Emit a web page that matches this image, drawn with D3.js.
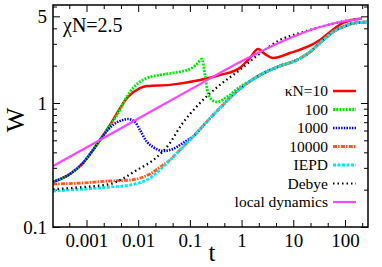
<!DOCTYPE html>
<html>
<head>
<meta charset="utf-8">
<script src="https://cdn.jsdelivr.net/npm/d3@7"></script>
<style>
  body { margin: 0; background: #fff; }
  svg text { font-family: "Liberation Serif", "DejaVu Serif", "Times New Roman", Times, serif; fill: #000; }
</style>
</head>
<body>
<div id="chart"></div>
<script>
// series: t values and W values per curve
var tShared = [2.25e-4, 4.8e-4, 8.55e-4, 1.34e-3, 1.82e-3];
var wShared = [0.231, 0.268, 0.328, 0.418, 0.503];

var tTail = [2.27, 5.53, 11.8, 21.0, 32.8, 58.6, 91.4, 156, 279];
var wTail = [1.68, 1.99, 2.22, 2.58, 3.05, 3.74, 4.10, 4.42, 4.50];

var tRed = [2.85e-3, 6.35e-3, 0.0108, 0.0148, 0.0412, 0.157, 0.382, 0.931, 1.45, 2.08, 2.84, 4.05, 8.63, 18.4, 32.8, 51.3, 91.4, 136, 213];
var wRed = [0.665, 1.12, 1.32, 1.37, 1.40, 1.53, 1.68, 1.92, 2.31, 2.72, 2.48, 2.31, 2.53, 2.83, 3.22, 3.74, 4.42, 4.67, 4.80];

var tGreen = [2.49e-3, 3.89e-3, 6.94e-3, 0.0148, 0.0471, 0.100, 0.137, 0.171, 0.196, 0.224, 0.267, 0.334, 0.522, 0.931, 1.45];
var wGreen = [0.606, 0.80, 1.23, 1.59, 1.75, 1.88, 2.06, 2.26, 1.68, 1.20, 1.06, 1.02, 1.12, 1.35, 1.50];

var tBlue = [2.49e-3, 3.26e-3, 5.08e-3, 6.35e-3, 8.67e-3, 0.0108, 0.0148, 0.0193, 0.0302, 0.0471, 0.0736, 0.137];
var wBlue = [0.595, 0.665, 0.730, 0.743, 0.703, 0.606, 0.485, 0.442, 0.410, 0.426, 0.476, 0.573];

var tCyan = [2.25e-4, 8.55e-4, 2.85e-3, 6.94e-3, 0.0169, 0.0302, 0.0563, 0.100, 0.179, 0.382, 0.682, 1.16];
var wCyan = [0.195, 0.202, 0.210, 0.218, 0.248, 0.305, 0.395, 0.503, 0.653, 0.911, 1.16, 1.40];

var tOrange = [2.25e-4, 7.48e-4, 2.85e-3, 6.94e-3, 0.0169, 0.0302, 0.0412];
var wOrange = [0.222, 0.226, 0.235, 0.239, 0.268, 0.316, 0.347];

var tDebye = [2.25e-4, 8.55e-4, 2.85e-3, 9.48e-3, 0.0231, 0.0412, 0.0643, 0.157, 0.382, 0.931, 2.08, 5.53, 13.5, 32.8, 80, 156];
var wDebye = [0.202, 0.210, 0.222, 0.288, 0.367, 0.476, 0.640, 1.0, 1.40, 1.85, 2.44, 3.22, 3.67, 4.10, 4.50, 4.76];

var tLocal = [2.25e-4, 1.82e-3, 0.0169, 0.157, 0.931, 2.27, 8.63, 32.8, 80, 156, 213];
var wLocal = [0.310, 0.503, 0.846, 1.42, 2.14, 2.58, 3.34, 4.10, 4.50, 4.71, 4.76];

var legendLabels = ["\u03baN=10", "100", "1000", "10000", "IEPD", "Debye", "local dynamics"];
var xTickValues = [0.001, 0.01, 0.1, 1, 10, 100];
var xTickLabels = ["0.001", "0.01", "0.1", "1", "10", "100"];
var yTickValues = [0.1, 1, 5];
var yTickLabels = ["0.1", "1", "5"];

var serif = "'Liberation Serif', 'DejaVu Serif', 'Times New Roman', serif";

function pts(t, w) { return t.map(function(d, i) { return [d, w[i]]; }); }

var series = [
  { data: pts(tShared.concat(tRed), wShared.concat(wRed)), color: "#ff0000", dash: null, width: 2.5 },
  { data: pts(tShared.concat(tGreen, tTail), wShared.concat(wGreen, wTail)), color: "#00ee00", dash: "2,1.2", width: 2.8 },
  { data: pts(tShared.concat(tBlue, tCyan.slice(8), tTail), wShared.concat(wBlue, wCyan.slice(8), wTail)), color: "#0000ff", dash: "1.5,1.2", width: 2.6 },
  { data: pts(tOrange.concat(tCyan.slice(6), tTail), wOrange.concat(wCyan.slice(6), wTail)), color: "#ff5a1e", dash: "4,1.2,1.5,1.2", width: 2.8 },
  { data: pts(tCyan.concat(tTail), wCyan.concat(wTail)), color: "#00e8f0", dash: "3,1.5", width: 2.8 },
  { data: pts(tDebye, wDebye), color: "#000000", dash: "1.5,3", width: 2.2 },
  { data: pts(tLocal, wLocal), color: "#ff44ff", dash: null, width: 2.2 }
];

var W = 382, H = 267;
var mL = 53, mR = 368, mT = 5, mB = 227;

var svg = d3.select("#chart").append("svg")
    .attr("width", W)
    .attr("height", H);

var x = d3.scaleLog().domain([2.25e-4, 279]).range([mL, mR]);
var y = d3.scaleLog().domain([0.1, 6.17]).range([mB, mT]);

svg.append("clipPath").attr("id", "clip")
  .append("rect").attr("x", mL).attr("y", mT).attr("width", mR - mL).attr("height", mB - mT);

// minor ticks
var xMinor = [];
for (var k = -4; k <= 2; k++) {
  [1/3, 2/3].forEach(function(f) {
    var v = Math.pow(10, k + f);
    if (v > 2.25e-4 && v < 279) xMinor.push(v);
  });
}
var yMinor = [];
[0.1, 1].forEach(function(dec) {
  for (var m = 2; m <= 9; m++) {
    var v = dec * m;
    if (v < 6.17 && v !== 5) yMinor.push(v);
  }
});

function styleAxis(g) {
  g.select(".domain").remove();
  g.selectAll("line").attr("stroke", "#000").attr("stroke-width", 1);
  g.attr("font-family", null).attr("font-size", null);
  g.selectAll("text").style("font-size", "19px").style("font-family", serif);
}

svg.append("g").attr("transform", "translate(0," + mB + ")")
  .call(d3.axisBottom(x).tickValues(xTickValues).tickSize(-7).tickPadding(7)
    .tickFormat(function(d, i) { return xTickLabels[i]; }))
  .call(styleAxis);
svg.append("g").attr("transform", "translate(0," + mB + ")")
  .call(d3.axisBottom(x).tickValues(xMinor).tickSize(-4).tickFormat(""))
  .call(styleAxis);
svg.append("g").attr("transform", "translate(0," + mT + ")")
  .call(d3.axisTop(x).tickValues(xTickValues).tickSize(-7).tickFormat(""))
  .call(styleAxis);
svg.append("g").attr("transform", "translate(0," + mT + ")")
  .call(d3.axisTop(x).tickValues(xMinor).tickSize(-4).tickFormat(""))
  .call(styleAxis);

svg.append("g").attr("transform", "translate(" + mL + ",0)")
  .call(d3.axisLeft(y).tickValues(yTickValues).tickSize(-7).tickPadding(6)
    .tickFormat(function(d, i) { return yTickLabels[i]; }))
  .call(styleAxis);
svg.append("g").attr("transform", "translate(" + mL + ",0)")
  .call(d3.axisLeft(y).tickValues(yMinor).tickSize(-4).tickFormat(""))
  .call(styleAxis);
svg.append("g").attr("transform", "translate(" + mR + ",0)")
  .call(d3.axisRight(y).tickValues(yTickValues).tickSize(-7).tickFormat(""))
  .call(styleAxis);
svg.append("g").attr("transform", "translate(" + mR + ",0)")
  .call(d3.axisRight(y).tickValues(yMinor).tickSize(-4).tickFormat(""))
  .call(styleAxis);

var line = d3.line()
  .x(function(d) { return x(d[0]); })
  .y(function(d) { return y(d[1]); })
  .curve(d3.curveMonotoneX);

var plot = svg.append("g").attr("clip-path", "url(#clip)");
series.forEach(function(s) {
  plot.append("path")
    .datum(s.data)
    .attr("d", line)
    .attr("fill", "none")
    .attr("stroke", s.color)
    .attr("stroke-width", s.width)
    .attr("stroke-dasharray", s.dash);
});

// frame
svg.append("rect")
  .attr("x", mL).attr("y", mT)
  .attr("width", mR - mL).attr("height", mB - mT)
  .attr("fill", "none").attr("stroke", "#000").attr("stroke-width", 1.5);

// legend
var legendY = [91, 109.5, 128, 146.5, 165, 183.5, 202];
var leg = svg.append("g");
series.forEach(function(s, i) {
  leg.append("text")
    .attr("x", 328).attr("y", legendY[i]).attr("dy", "0.33em")
    .attr("text-anchor", "end")
    .style("font-family", serif)
    .style("font-size", "15.5px")
    .text(legendLabels[i]);
  leg.append("line")
    .attr("x1", 333).attr("x2", 356)
    .attr("y1", legendY[i]).attr("y2", legendY[i])
    .attr("stroke", s.color)
    .attr("stroke-width", s.width)
    .attr("stroke-dasharray", s.dash);
});

// title and axis labels
svg.append("text").attr("x", 63).attr("y", 32)
  .style("font-family", serif).style("font-size", "20px").text("\u03c7N=2.5");
svg.append("text").attr("transform", "translate(24,120) rotate(-90)")
  .attr("text-anchor", "middle").style("font-family", serif).style("font-size", "26px").text("W");
svg.append("text").attr("x", 212).attr("y", 261)
  .attr("text-anchor", "middle").style("font-family", serif).style("font-size", "25px").text("t");
</script>
</body>
</html>
